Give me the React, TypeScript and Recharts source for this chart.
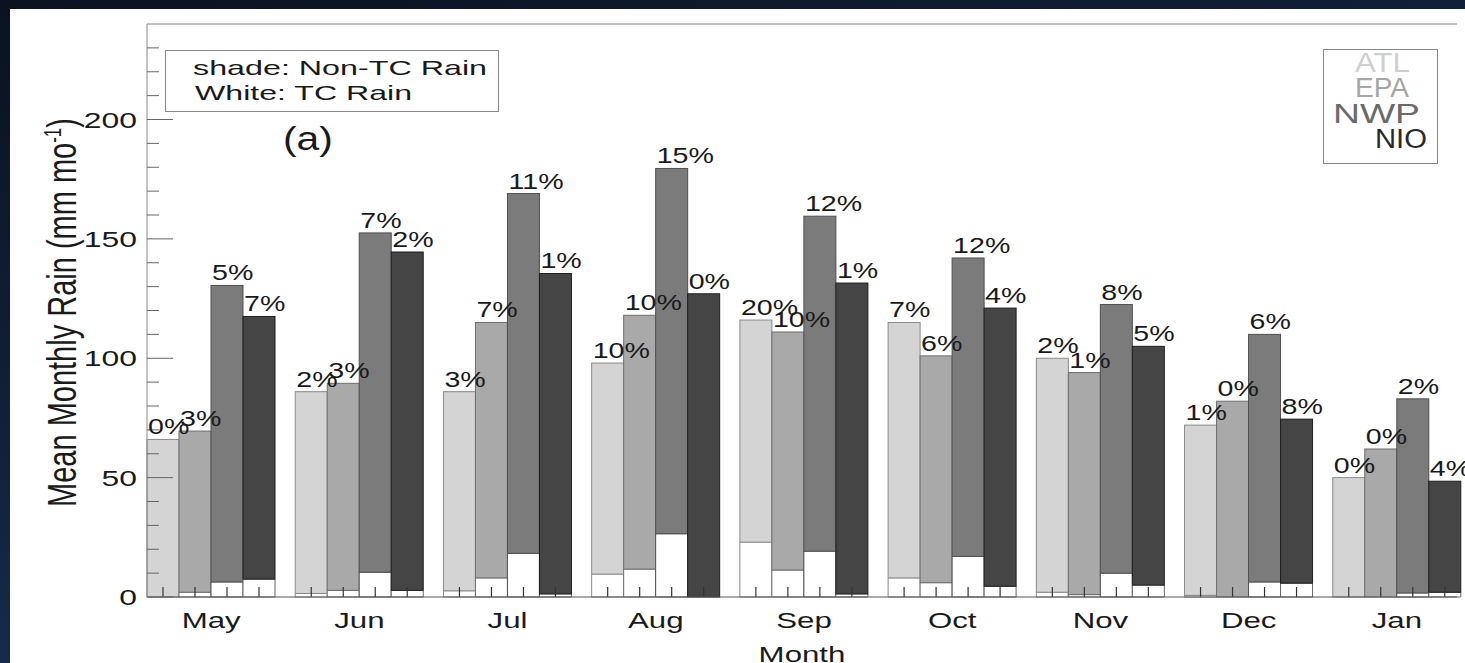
import { BarChart, Bar, XAxis, YAxis, LabelList, ReferenceLine } from "recharts";

const months = ["May", "Jun", "Jul", "Aug", "Sep", "Oct", "Nov", "Dec", "Jan"];
const regions = ["ATL", "EPA", "NWP", "NIO"];

// total monthly rain (mm/mo) per basin
const atlTotal = [66, 86, 86, 98, 116, 115, 100, 72, 50];
const epaTotal = [69.5, 89.5, 115, 118, 111, 101, 94, 82, 62];
const nwpTotal = [130.5, 152.5, 169, 179.5, 159.5, 142, 122.5, 110, 83];
const nioTotal = [117.5, 144.5, 135.5, 127, 131.5, 121, 105, 74.5, 48.5];

// TC part (white)
const atlTc = [0, 1.5, 2.6, 9.6, 23, 8, 2, 0.7, 0];
const epaTc = [2, 2.8, 8, 11.7, 11.3, 6, 1, 0, 0];
const nwpTc = [6.3, 10.4, 18.3, 26.5, 19.2, 17, 10, 6.3, 1.7];
const nioTc = [7.5, 2.8, 1.3, 0, 1.3, 4.5, 5, 5.8, 2];

// percentage labels
const atlPct = [0, 2, 3, 10, 20, 7, 2, 1, 0];
const epaPct = [3, 3, 7, 10, 10, 6, 1, 0, 0];
const nwpPct = [5, 7, 11, 15, 12, 12, 8, 6, 2];
const nioPct = [7, 2, 1, 0, 1, 4, 5, 8, 4];

const yTicks = [0, 10, 20, 30, 40, 50, 60, 70, 80, 90, 100, 110, 120, 130, 140, 150, 160, 170, 180, 190, 200, 210, 220, 230];

const fills = ["#d4d4d4", "#a9a9a9", "#7b7b7b", "#454545"];
const strokes = ["#8a8a8a", "#6e6e6e", "#505050", "#1e1e1e"];
const legendColors = ["#cfcfcf", "#a6a6a6", "#6a6a6a", "#2a2a2a"];

const totals = [atlTotal, epaTotal, nwpTotal, nioTotal];
const tcs = [atlTc, epaTc, nwpTc, nioTc];
const pcts = [atlPct, epaPct, nwpPct, nioPct];

const data = months.map((m, i) => {
  const row: any = { month: m };
  regions.forEach((r, k) => {
    row[r + "tc"] = tcs[k][i];
    row[r + "shade"] = totals[k][i] - tcs[k][i];
    row[r + "pct"] = pcts[k][i];
  });
  return row;
});

const FONT = "'Liberation Sans', Arial, Helvetica, sans-serif";

function Txt({ x, y, sx = 1.4, size = 22, anchor = "start", fill = "#1a1a1a", children }: any) {
  return (
    <text
      transform={`translate(${x},${y}) scale(${sx},1)`}
      x={0}
      y={0}
      fontSize={size}
      fontFamily={FONT}
      textAnchor={anchor}
      fill={fill}
    >
      {children}
    </text>
  );
}

function YTick(props: any) {
  const { x, y, payload, side } = props;
  const v = payload.value;
  const major = v % 50 === 0;
  const len = major ? 26 : 12;
  const dir = side === "left" ? 1 : -1;
  return (
    <g>
      <line x1={x} x2={x + dir * len} y1={y} y2={y} stroke="#666" strokeWidth={1} />
      {side === "left" && major && (
        <Txt x={x - 10} y={y + 8} anchor="end" sx={1.45}>
          {v}
        </Txt>
      )}
    </g>
  );
}

function MonthTick(props: any) {
  const { x, y, payload } = props;
  return (
    <Txt x={x} y={y + 31} anchor="middle" sx={1.42}>
      {payload.value}
    </Txt>
  );
}

function ShadeBar(props: any) {
  const { x, y, width, height, fill, stroke, background } = props;
  const base = background ? background.y + background.height : y + height;
  const cx = x + width / 2;
  return (
    <g>
      <rect x={x} y={y} width={width} height={height} fill={fill} stroke={stroke} strokeWidth={1} />
      <line x1={cx} x2={cx} y1={base} y2={base - 10} stroke="#333" strokeWidth={1.2} />
    </g>
  );
}

function PctLabel(props: any) {
  const { x, y, value } = props;
  return (
    <Txt x={x + 1} y={y - 5} sx={1.3}>
      {value}%
    </Txt>
  );
}

export default function App() {
  return (
    <div
      style={{
        position: "absolute",
        left: 0,
        top: 0,
        width: 1465,
        height: 663,
        overflow: "hidden",
        background: "linear-gradient(165deg, #0b1220 0%, #12223c 45%, #1d3c6c 100%)",
      }}
    >
      <div style={{ position: "absolute", left: 10, top: 9, right: 0, bottom: 0, background: "#fff" }} />
      <div style={{ position: "absolute", left: 0, top: 0 }}>
        <BarChart
          width={1465}
          height={663}
          data={data}
          margin={{ top: 24, right: 8, bottom: 6, left: 57 }}
          barCategoryGap={10}
          barGap={0}
        >
          <XAxis
            dataKey="month"
            height={60}
            padding={{ left: -10, right: -14 }}
            tickSize={0}
            tickMargin={0}
            tickLine={false}
            axisLine={{ stroke: "#555" }}
            tick={MonthTick}
            interval={0}
            label={{
              content: (p: any) => {
                const vb = p.viewBox;
                return (
                  <Txt x={vb.x + vb.width / 2} y={vb.y + 65} anchor="middle" sx={1.42}>
                    Month
                  </Txt>
                );
              },
            }}
          />
          <YAxis
            yAxisId="l"
            width={90}
            domain={[0, 240]}
            ticks={yTicks}
            interval={0}
            tickSize={0}
            tickMargin={0}
            tickLine={false}
            axisLine={{ stroke: "#888" }}
            tick={(p: any) => <YTick {...p} side="left" />}
            label={{
              content: (p: any) => {
                const vb = p.viewBox;
                return (
                  <text
                    transform={`translate(${vb.x + 19},${vb.y + vb.height / 2 + 2}) scale(1.4,1) rotate(-90)`}
                    x={0}
                    y={0}
                    fontSize={29}
                    fontFamily={FONT}
                    textAnchor="middle"
                    fill="#1a1a1a"
                  >
                    Mean Monthly Rain (mm mo
                    <tspan fontSize={17} dy={-11}>-1</tspan>
                    <tspan dy={11}>)</tspan>
                  </text>
                );
              },
            }}
          />
          <YAxis
            yAxisId="r"
            orientation="right"
            width={0}
            domain={[0, 240]}
            ticks={yTicks}
            interval={0}
            tickSize={0}
            tickMargin={0}
            tickLine={false}
            axisLine={{ stroke: "#888" }}
            tick={(p: any) => <YTick {...p} side="right" />}
          />
          <ReferenceLine yAxisId="l" y={240} stroke="#888" ifOverflow="visible" />
          {regions.map((r, k) => [
            <Bar
              key={r + "tc"}
              yAxisId="l"
              dataKey={r + "tc"}
              stackId={r}
              fill="#ffffff"
              stroke={strokes[k] === "#1e1e1e" ? "#666" : strokes[k]}
              strokeWidth={1}
              legendType="none"
              isAnimationActive={false}
            />,
            <Bar
              key={r + "shade"}
              yAxisId="l"
              dataKey={r + "shade"}
              stackId={r}
              name={r}
              fill={fills[k]}
              stroke={strokes[k]}
              shape={ShadeBar}
              isAnimationActive={false}
            >
              <LabelList dataKey={r + "pct"} content={PctLabel} />
            </Bar>,
          ])}
        </BarChart>
      </div>
      <svg
        width={1465}
        height={663}
        style={{ position: "absolute", left: 0, top: 0, pointerEvents: "none" }}
      >
        <rect x={165.5} y={50.5} width={333} height={61} fill="none" stroke="#888" />
        <text x={193} y={75} fontSize={21} fontFamily={FONT} fill="#1a1a1a" textLength={294} lengthAdjust="spacingAndGlyphs">
          shade: Non-TC Rain
        </text>
        <text x={195} y={100} fontSize={21} fontFamily={FONT} fill="#1a1a1a" textLength={217} lengthAdjust="spacingAndGlyphs">
          White: TC Rain
        </text>
        <Txt x={283} y={150} size={34} sx={1.2}>
          (a)
        </Txt>
        <rect x={1323.5} y={49.5} width={114} height={114} fill="none" stroke="#888" />
        {regions.map((r, k) => (
          <text
            key={r}
            x={[1355, 1355, 1333, 1375][k]}
            y={72 + 25.3 * k}
            fontSize={27}
            fontFamily={FONT}
            fill={legendColors[k]}
            textLength={[55, 54, 87, 52][k]}
            lengthAdjust="spacingAndGlyphs"
          >
            {r}
          </text>
        ))}
      </svg>
    </div>
  );
}
